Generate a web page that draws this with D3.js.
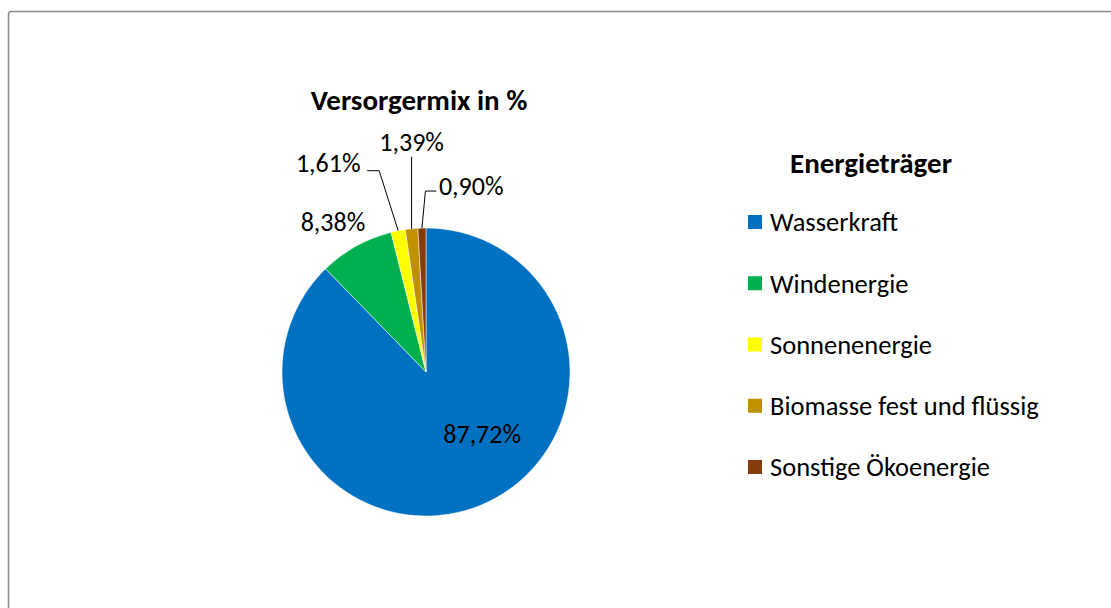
<!DOCTYPE html>
<html>
<head>
<meta charset="utf-8">
<script src="https://cdn.jsdelivr.net/npm/d3@7"></script>
<style>
  body { margin: 0; background: #fff; }
  text { font-family: Carlito, Calibri, "Open Sans", sans-serif; fill: #000; }
</style>
</head>
<body>
<div id="chart"></div>
<script>
var categories = ['Wasserkraft', 'Windenergie', 'Sonnenenergie', 'Biomasse fest und flüssig', 'Sonstige Ökoenergie']
var values = [87.72, 8.38, 1.61, 1.39, 0.90]
var labels = ['87,72%', '8,38%', '1,61%', '1,39%', '0,90%']
var colors = ['#0070C0', '#00B050', '#FFFF00', '#BF9000', '#843C0C']

var width = 1111, height = 608
var cx = 426, cy = 372, r = 144

var svg = d3.select('#chart')
    .append('svg')
    .attr('width', width)
    .attr('height', height)

// frame (right and bottom lie outside the window)
svg.append('rect')
    .attr('x', 8.5).attr('y', 11.5)
    .attr('width', 1120).attr('height', 620)
    .attr('rx', 3)
    .attr('fill', '#fff')
    .attr('stroke', '#8c8c8c')
    .attr('stroke-width', 1.5)

svg.append('text')
    .attr('x', 419).attr('y', 110)
    .attr('text-anchor', 'middle')
    .style('font-size', '29px').style('font-weight', 'bold')
    .text('Versorgermix in %')

var pie = d3.pie().sort(null).value(d => d)
var arcs = pie(values)
var arc = d3.arc().innerRadius(0).outerRadius(r)

var g = svg.append('g').attr('transform', `translate(${cx},${cy})`)

g.selectAll('path')
  .data(arcs)
  .join('path')
    .attr('d', arc)
    .attr('fill', (d, i) => colors[i])
    .attr('stroke', '#fff')
    .attr('stroke-width', 0.5)

var edge = d => {
  var a = (d.startAngle + d.endAngle) / 2
  return [r * Math.sin(a), -r * Math.cos(a)]
}

// label layout: offset of label from the slice edge point, optional elbow
var labelLayout = [
  { dx: 2, dy: -71.5, anchor: 'middle', line: null },
  { dx: -23, dy: -24, anchor: 'middle', line: null },
  { dx: -70, dy: -68, anchor: 'middle', line: { ex: -19, ey: -60, hx: -31 } },
  { dx: 0, dy: -87, anchor: 'middle', line: { ex: 0, ey: -72, hx: 0 } },
  { dx: 17, dy: -42, anchor: 'start', line: { ex: 3.5, ey: -37, hx: 14.5 } }
]

arcs.forEach((d, i) => {
  var p = edge(d)
  var L = labelLayout[i]
  if (L.line) {
    var e = L.line
    var pts = e.hx === 0
      ? [[p[0], p[1]], [p[0], p[1] + e.ey]]
      : [[p[0], p[1]], [p[0] + e.ex, p[1] + e.ey], [p[0] + e.hx, p[1] + e.ey]]
    g.append('path')
      .attr('d', d3.line()(pts))
      .attr('fill', 'none')
      .attr('stroke', '#000')
      .attr('stroke-width', 1)
  }
  g.append('text')
    .attr('x', p[0] + L.dx)
    .attr('y', p[1] + L.dy)
    .attr('dy', '0.35em')
    .attr('text-anchor', L.anchor)
    .style('font-size', '26px')
    .text(labels[i])
})

// legend
svg.append('text')
    .attr('x', 871).attr('y', 173)
    .attr('text-anchor', 'middle')
    .style('font-size', '29px').style('font-weight', 'bold')
    .text('Energieträger')

var ly = d3.scalePoint().domain(categories).range([222, 467])

var leg = svg.selectAll('g.leg')
  .data(categories)
  .join('g')
    .attr('class', 'leg')
    .attr('transform', d => `translate(748,${ly(d)})`)

leg.append('rect')
    .attr('x', 0).attr('y', -7)
    .attr('width', 14).attr('height', 14)
    .attr('fill', (d, i) => colors[i])

leg.append('text')
    .attr('x', 22).attr('y', 0)
    .attr('dy', '0.35em')
    .style('font-size', '26.5px')
    .text(d => d)
</script>
</body>
</html>
